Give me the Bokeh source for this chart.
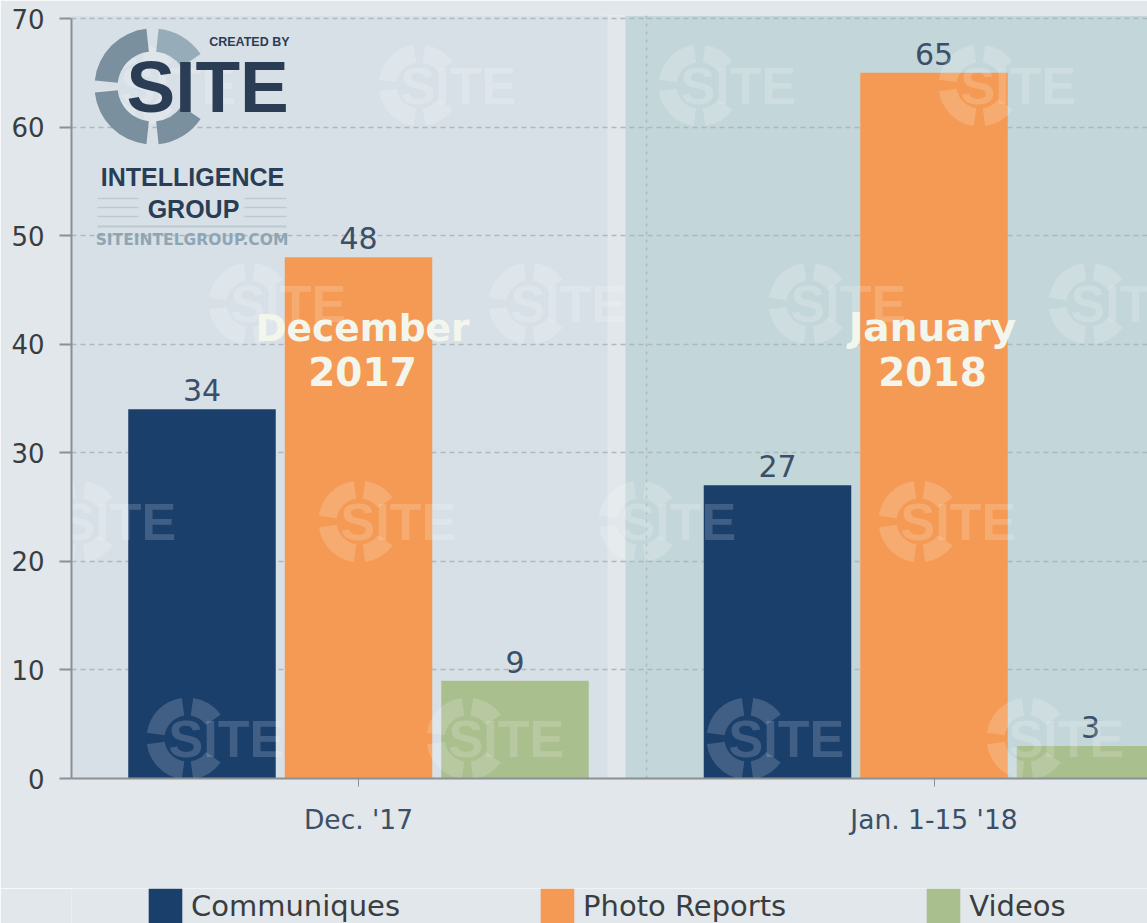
from bokeh.plotting import figure
from bokeh.layouts import column
from bokeh.embed import file_html
from bokeh.resources import INLINE
from bokeh.core.properties import value
from bokeh.models import (BoxAnnotation, FixedTicker, Legend, LegendItem, Range1d)

# ---- data
categories = ["Dec. '17", "Jan. 1-15 '18"]
communiques = [34, 27]
photo_reports = [48, 65]
videos = [9, 3]
series_names = ["Communiques", "Photo Reports", "Videos"]
y_ticks = [0, 10, 20, 30, 40, 50, 60, 70]
month_labels = [["December", "2017"], ["January", "2018"]]

# ---- style
BG = "#e1e7ea"
PANE1 = "#d8e0e7"
PANE2 = "#c3d6da"
NAVY = "#1b3f6b"
ORANGE = "#f49a55"
GREEN = "#aabf8e"
TXT = "#3b4f68"
DARK = "#3a3d40"
AXIS = "#8b9094"
FONT = "DejaVu Sans"
LOGO = "Liberation Sans"

W, H = 1147, 923
LEGEND_H = 35
FRAME_L = 71
X0_PAGE, X_UNIT = 358.0, 575.5   # centre of first category, pixels per category
Y0_PAGE, Y_UNIT = 778.0, 760.0 / 70.0


def X(px):
    return (px - X0_PAGE) / X_UNIT


def Y(py):
    return (Y0_PAGE - py) / Y_UNIT


p = figure(width=W, height=H - LEGEND_H, output_backend="svg", toolbar_location=None,
           x_range=Range1d(X(FRAME_L), X(1147)), y_range=Range1d(0, Y(15)),
           min_border_left=FRAME_L, min_border_right=0, min_border_top=15,
           min_border_bottom=H - LEGEND_H - 778,
           background_fill_color=BG, border_fill_color=BG, outline_line_color=None)

# panes behind the chart
for l, r, c in [(FRAME_L, 607, PANE1), (625, 1200, PANE2)]:
    p.add_layout(BoxAnnotation(left=X(l), right=X(r), top=Y(15), bottom=0,
                               fill_color=c, fill_alpha=1, line_color=None, level="image"))

# axes and grid
p.xaxis.ticker = FixedTicker(ticks=[0, 1])
p.xaxis.major_label_overrides = {0: categories[0], 1: categories[1]}
p.xaxis.major_label_text_font = FONT
p.xaxis.major_label_text_font_size = "26.5px"
p.xaxis.major_label_text_color = TXT
p.xaxis.major_label_standoff = 17
p.xaxis.major_tick_out = 8
p.xaxis.major_tick_in = 0
p.xaxis.minor_tick_line_color = None
p.xaxis.axis_line_color = AXIS
p.xaxis.axis_line_width = 2
p.xaxis.major_tick_line_color = AXIS
p.xaxis.major_tick_line_width = 1

p.yaxis.ticker = FixedTicker(ticks=y_ticks)
p.yaxis.bounds = (0, 70)
p.yaxis.major_label_text_font = FONT
p.yaxis.major_label_text_font_size = "26px"
p.yaxis.major_label_text_color = DARK
p.yaxis.major_label_standoff = 15
p.yaxis.major_tick_out = 12
p.yaxis.major_tick_in = 0
p.yaxis.minor_tick_line_color = None
p.yaxis.axis_line_color = AXIS
p.yaxis.axis_line_width = 2
p.yaxis.major_tick_line_color = AXIS
p.yaxis.major_tick_line_width = 2

p.ygrid.ticker = FixedTicker(ticks=y_ticks)
p.ygrid.grid_line_color = "#aeb7bb"
p.ygrid.grid_line_dash = "5 4"
p.ygrid.grid_line_width = 1.5
p.xgrid.ticker = FixedTicker(ticks=[0.5])
p.xgrid.grid_line_color = "#aeb7bb"
p.xgrid.grid_line_dash = "3 5"
p.xgrid.grid_line_width = 1.5

# bars
DODGE = 156.5 / X_UNIT
BAR_W = 147.5 / X_UNIT
idx = list(range(len(categories)))
colors = [NAVY, ORANGE, GREEN]
for k, (vals, col) in enumerate(zip([communiques, photo_reports, videos], colors)):
    xs = [i + (k - 1) * DODGE for i in idx]
    p.vbar(x=xs, top=vals, width=BAR_W, bottom=0, fill_color=col, line_color=None)
    p.text(x=xs, y=vals, text=[str(v) for v in vals], text_font=value(FONT),
           text_font_size="30px", text_color=TXT, text_align="center",
           text_baseline="bottom", y_offset=-8)

# repeated watermark
wm_rows = [(85, [98, 378, 658, 938]), (303, [208, 488, 768, 1048]),
           (521, [38, 318, 598, 878]), (738, [146, 426, 706, 986])]
for cy, lefts in wm_rows:
    for lx in lefts:
        cx = lx + 41
        for a0, a1 in [(98, 172), (188, 262), (278, 324), (36, 82)]:
            p.annular_wedge(x=[X(cx)], y=[Y(cy)], inner_radius=23, outer_radius=41,
                            inner_radius_units="screen", outer_radius_units="screen",
                            start_angle=a0, end_angle=a1, start_angle_units="deg",
                            end_angle_units="deg", fill_color="white", fill_alpha=0.17,
                            line_color=None)
        p.text(x=[X(lx + 22)], y=[Y(cy)], text=["SITE"], text_font=value(LOGO),
               text_font_style="bold", text_font_size="52px", text_color="white",
               text_alpha=0.17, text_baseline="middle", text_align="left")

# logo top-left
LCX, LCY = 152, 86
for a0, a1, c in [(96, 174, "#7a909f"), (186, 264, "#7a909f"), (276, 326, "#7a909f"), (34, 84, "#96adb9")]:
    p.annular_wedge(x=[X(LCX)], y=[Y(LCY)], inner_radius=35, outer_radius=58,
                    inner_radius_units="screen", outer_radius_units="screen",
                    start_angle=a0, end_angle=a1, start_angle_units="deg", end_angle_units="deg",
                    fill_color=c, line_color=None)
p.text(x=[X(126)], y=[Y(86)], text=["SITE"], text_font=value(LOGO),
       text_font_style="bold", text_font_size="73px", text_color="#2a3d55",
       text_align="left", text_baseline="middle")
p.text(x=[X(289)], y=[Y(41)], text=["CREATED BY"], text_font=value(LOGO), text_font_style="bold",
       text_font_size="12.5px", text_color="#2a3d55", text_align="right", text_baseline="middle")
p.text(x=[X(192)], y=[Y(176)], text=["INTELLIGENCE"], text_font=value(LOGO), text_font_style="bold",
       text_font_size="25px", text_color="#2a3d55", text_align="center", text_baseline="middle")
p.text(x=[X(193)], y=[Y(208)], text=["GROUP"], text_font=value(LOGO), text_font_style="bold",
       text_font_size="25px", text_color="#2a3d55", text_align="center", text_baseline="middle")
p.text(x=[X(191.5)], y=[Y(239.5)], text=["SITEINTELGROUP.COM"], text_font=value(FONT),
       text_font_style="bold", text_font_size="15.5px", text_color="#8ea6b3",
       text_align="center", text_baseline="middle")
for ly in (198, 207, 216):
    p.segment(x0=[X(97), X(244)], x1=[X(138), X(286)], y0=[Y(ly)] * 2, y1=[Y(ly)] * 2,
              line_color="#bcc9d0", line_width=1.5)
p.segment(x0=[X(97)], x1=[X(286)], y0=[Y(226)], y1=[Y(226)], line_color="#bcc9d0", line_width=2)

# month captions
for i, (m, yr) in enumerate(month_labels):
    cx = [362, 932][i]
    p.text(x=[X(cx)], y=[Y(327)], text=[m], text_font=value(FONT), text_font_style="bold",
           text_font_size="37.5px" if i == 0 else "39px", text_color="#f3f6ec", text_align="center",
           text_baseline="middle")
    p.text(x=[X(cx)], y=[Y(371)], text=[yr], text_font=value(FONT), text_font_style="bold",
           text_font_size="39px", text_color="#f3f6ec", text_align="center", text_baseline="middle")

# legend strip (its handles lie outside the strip's range, only the swatches show)
q = figure(width=W, height=LEGEND_H, output_backend="svg", toolbar_location=None,
           x_range=Range1d(0, 1), y_range=Range1d(0, 1), min_border=0,
           background_fill_color=BG, border_fill_color=BG, outline_line_color=None)
q.xaxis.visible = False
q.yaxis.visible = False
q.grid.visible = False
handles = [q.vbar(x=[5], top=[1], width=0.1, fill_color=c, line_color=None) for c in colors]
legend = Legend(items=[LegendItem(label=n, renderers=[r]) for n, r in zip(series_names, handles)],
                orientation="horizontal", location=(144 - FRAME_L, -4),
                glyph_width=42, glyph_height=43, label_standoff=5, spacing=136,
                label_text_font=FONT, label_text_font_size="29px", label_text_color=DARK,
                background_fill_alpha=0, border_line_color=None, margin=0, padding=0)
q.add_layout(legend, "center")

html = file_html(column(p, q, spacing=0), INLINE)
html = html.replace("<body>", f'<body style="background:{BG};margin:0;overflow:hidden">', 1)
open("out.html", "w").write(html)
